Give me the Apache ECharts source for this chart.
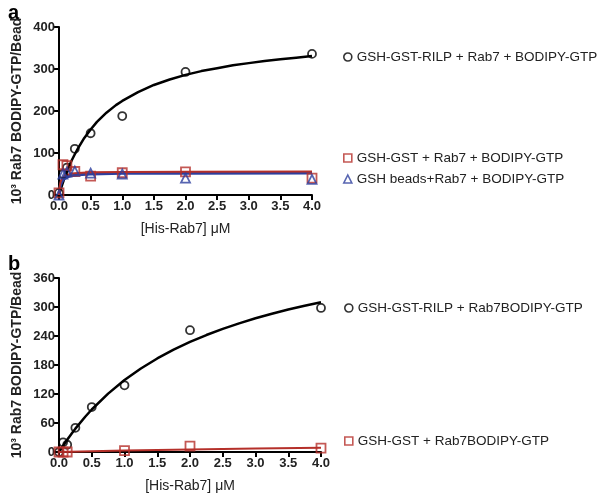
<!DOCTYPE html>
<html><head><meta charset="utf-8">
<script src="https://cdn.jsdelivr.net/npm/echarts@6/dist/echarts.min.js"></script>
<style>html,body{margin:0;padding:0;background:#fff}#c{width:606px;height:501px}</style>
</head><body><div id="c"></div>
<script>
// ---- data ----
const concA = [0, 0.0625, 0.125, 0.25, 0.5, 1, 2, 4];
const rilpA = [5, 50, 65, 110, 147, 188, 293, 336];
const gstA = [5, 72, 70, 56, 45, 53, 55, 40];
const beadsA = [0, 50, 55, 57, 52, 50, 40, 37];
const fitXA = [0, 0.05, 0.1, 0.15, 0.2, 0.25, 0.3, 0.4, 0.5, 0.6, 0.75, 0.9, 1, 1.25, 1.5, 1.75, 2, 2.25, 2.5, 2.75, 3, 3.25, 3.5, 3.75, 4];
const fitRilpA = [0, 24, 46, 65, 82, 97, 111, 136, 156, 174, 196, 214, 224, 245, 262, 275, 286, 295, 302, 309, 314, 319, 323, 327, 331];
const fitX2A = [0, 0.01, 0.02, 0.03, 0.05, 0.075, 0.1, 0.15, 0.2, 0.3, 0.5, 1, 2, 4];
const fitGstA = [0, 19, 28, 34, 40, 44, 47, 49, 51, 52.5, 54, 55, 55.4, 55.7];
const fitBeadsA = [0, 13, 21, 26.5, 33, 38, 41, 44, 46, 48, 50, 51.5, 52, 52.5];

const concB = [0, 0.0625, 0.125, 0.25, 0.5, 1, 2, 4];
const rilpB = [0, 20, 15, 50, 93, 138, 252, 298];
const concGstB = [0, 0.0625, 0.125, 1, 2, 4];
const gstB = [0, 0, 0, 3, 12, 8];
const fitXB = [0, 0.1, 0.2, 0.25, 0.4, 0.5, 0.75, 1, 1.25, 1.5, 1.75, 2, 2.25, 2.5, 2.75, 3, 3.25, 3.5, 3.75, 4];
const fitRilpB = [0, 20.6, 39.4, 48.3, 72.9, 87.9, 120.8, 148.8, 172.7, 193.5, 211.7, 227.7, 242, 254.7, 266.2, 276.6, 286.1, 294.7, 302.6, 309.9];
const fitX2B = [0, 1, 2, 3, 4];
const fitGstB = [0, 3, 5, 7, 9];

const yTicksA = {min: 0, max: 400, interval: 100};
const yTicksB = {min: 0, max: 360, interval: 60};
const xTicks = {min: 0, max: 4, interval: 0.5};

const nameRilpA = 'GSH-GST-RILP + Rab7 + BODIPY-GTP';
const nameGstA = 'GSH-GST + Rab7 + BODIPY-GTP';
const nameBeadsA = 'GSH beads+Rab7 + BODIPY-GTP';
const nameRilpB = 'GSH-GST-RILP + Rab7BODIPY-GTP';
const nameGstB = 'GSH-GST + Rab7BODIPY-GTP';
const yName = '10³ Rab7 BODIPY-GTP/Bead';
const xName = '[His-Rab7] μM';

// ---- styling ----
const BLACK = '#000', RED = '#b5302a', BLUE = '#2d3f9e';
const FONT = 'Liberation Sans, Arial, sans-serif';
const zip = (xs, ys) => xs.map((x, i) => [x, ys[i]]);

function xAxis(gi) {
  return {
    type: 'value', gridIndex: gi, min: xTicks.min, max: xTicks.max, interval: xTicks.interval,
    name: xName, nameLocation: 'middle', nameGap: 27,
    nameTextStyle: {fontFamily: FONT, fontSize: 14, color: '#222'},
    axisLine: {onZero: false, lineStyle: {color: BLACK, width: 2}},
    axisTick: {length: 5, lineStyle: {color: BLACK, width: 2}},
    axisLabel: {fontFamily: FONT, fontSize: 13, fontWeight: 'bold', color: '#222', margin: 5,
      formatter: v => v.toFixed(1)},
    splitLine: {show: false}
  };
}
function yAxis(gi, t) {
  return {
    type: 'value', gridIndex: gi, min: t.min, max: t.max, interval: t.interval,
    name: yName, nameLocation: 'middle', nameGap: 35, nameRotate: 90,
    nameTextStyle: {fontFamily: FONT, fontSize: 14, fontWeight: 'bold', color: '#222'},
    axisLine: {lineStyle: {color: BLACK, width: 2}},
    axisTick: {length: 5, lineStyle: {color: BLACK, width: 2}},
    axisLabel: {fontFamily: FONT, fontSize: 13, fontWeight: 'bold', color: '#222', margin: 4},
    splitLine: {show: false}
  };
}
function fit(gi, xs, ys, color, w) {
  return {type: 'line', xAxisIndex: gi, yAxisIndex: gi, data: zip(xs, ys), showSymbol: false,
    smooth: false, lineStyle: {color, width: w}, z: 2, silent: true};
}
function pts(gi, name, xs, ys, symbol, color, size) {
  return {type: 'scatter', name, xAxisIndex: gi, yAxisIndex: gi, data: zip(xs, ys), symbol,
    symbolSize: size, itemStyle: {color: 'rgba(255,255,255,0)', borderColor: color, borderWidth: 1.8}, z: 3};
}
const legText = {fontFamily: FONT, fontSize: 13.5, color: '#222'};
function leg(left, top, items, gap) {
  return {left, top, orient: 'vertical', itemWidth: 8, itemHeight: 8, itemGap: gap || 7,
    textStyle: legText, selectedMode: false, data: items};
}

const chart = echarts.init(document.getElementById('c'), null, {renderer: 'canvas'});
chart.setOption({
  backgroundColor: '#fff',
  animation: false,
  title: [
    {text: 'a', left: 3, top: -2, textStyle: {fontFamily: FONT, fontSize: 20, fontWeight: 'bold', color: '#000'}},
    {text: 'b', left: 3, top: 249, textStyle: {fontFamily: FONT, fontSize: 20, fontWeight: 'bold', color: '#000'}}
  ],
  grid: [
    {left: 59, top: 27, width: 253, height: 168},
    {left: 59, top: 278, width: 262, height: 174}
  ],
  xAxis: [xAxis(0), xAxis(1)],
  yAxis: [yAxis(0, yTicksA), yAxis(1, yTicksB)],
  legend: [
    leg(338, 45, [{name: nameRilpA, icon: 'circle', itemStyle: {color: '#fff', borderColor: BLACK, borderWidth: 1.6}}]),
    leg(338, 146, [
      {name: nameGstA, icon: 'rect', itemStyle: {color: '#fff', borderColor: RED, borderWidth: 1.6}},
      {name: nameBeadsA, icon: 'triangle', itemStyle: {color: '#fff', borderColor: BLUE, borderWidth: 1.6}}
    ]),
    leg(339, 296, [{name: nameRilpB, icon: 'circle', itemStyle: {color: '#fff', borderColor: BLACK, borderWidth: 1.6}}]),
    leg(339, 429, [{name: nameGstB, icon: 'rect', itemStyle: {color: '#fff', borderColor: RED, borderWidth: 1.6}}])
  ],
  series: [
    fit(0, fitXA, fitRilpA, BLACK, 2.5),
    fit(0, fitX2A, fitBeadsA, BLUE, 3),
    fit(0, fitX2A, fitGstA, RED, 2),
    pts(0, nameRilpA, concA, rilpA, 'circle', BLACK, 8),
    pts(0, nameGstA, concA, gstA, 'rect', RED, 9),
    pts(0, nameBeadsA, concA, beadsA, 'triangle', BLUE, 9),
    fit(1, fitXB, fitRilpB, BLACK, 2.5),
    fit(1, fitX2B, fitGstB, RED, 2),
    pts(1, nameRilpB, concB, rilpB, 'circle', BLACK, 8),
    pts(1, nameGstB, concGstB, gstB, 'rect', RED, 9)
  ]
});
</script></body></html>
